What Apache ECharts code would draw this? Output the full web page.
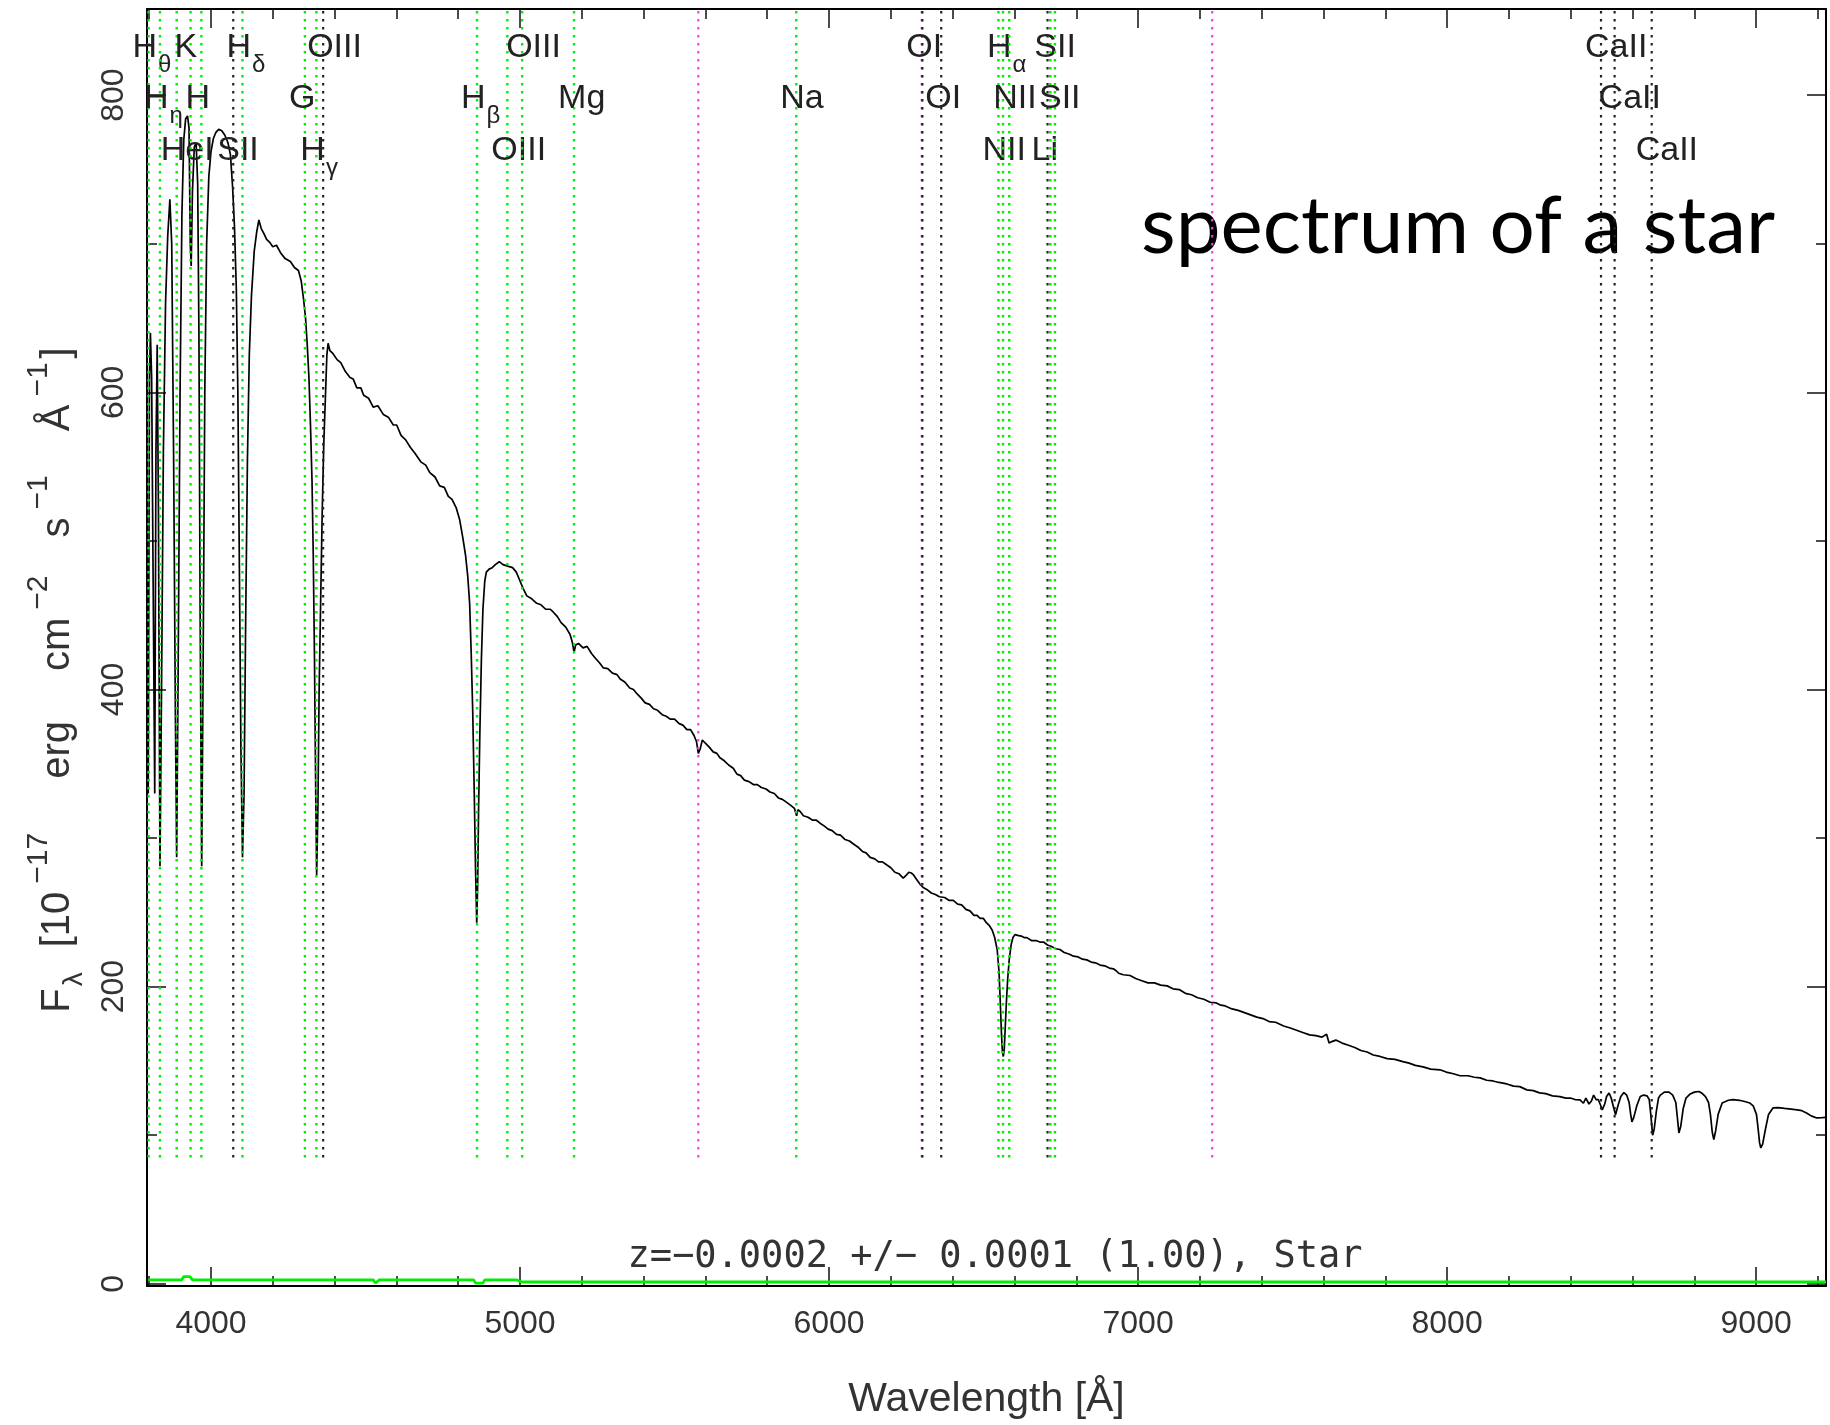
<!DOCTYPE html>
<html>
<head>
<meta charset="utf-8">
<script src="https://cdn.jsdelivr.net/npm/echarts@6/dist/echarts.min.js"></script>
<style>
  html, body { margin: 0; padding: 0; background: #fff; }
  #spec { width: 1830px; height: 1425px; }
</style>
</head>
<body>
<div id="spec"></div>
<script>
// spectrum (wavelength in Angstrom, flux in 1e-17 erg/cm2/s/A)
const specWave = [
  3797, 3801, 3804, 3808, 3813, 3818, 3822, 3826, 3830, 3835, 3840, 3846, 3853, 3860, 3867, 3873,
  3879, 3885, 3889, 3894, 3900, 3906, 3912, 3918, 3924, 3929, 3933, 3936, 3940, 3946, 3952, 3957,
  3961, 3965, 3970, 3975, 3980, 3986, 3993, 4000, 4008, 4016, 4025, 4035, 4045, 4055, 4063, 4070,
  4076, 4082, 4087, 4092, 4097, 4102, 4107, 4112, 4118, 4124, 4131, 4140, 4148, 4155, 4163, 4171,
  4180, 4190, 4200, 4212, 4225, 4240, 4257, 4270, 4283, 4292, 4300, 4306, 4311, 4317, 4322, 4327,
  4331, 4335, 4339, 4342, 4346, 4350, 4355, 4360, 4365, 4370, 4375, 4379, 4385, 4395, 4408, 4420,
  4435, 4450, 4460, 4472, 4485, 4494, 4510, 4525, 4540, 4558, 4575, 4590, 4601, 4615, 4630, 4645,
  4660, 4680, 4695, 4708, 4725, 4740, 4755, 4768, 4780, 4794, 4805, 4815, 4824, 4831, 4837, 4842,
  4847, 4852, 4856, 4860, 4863, 4866, 4870, 4875, 4880, 4886, 4891, 4900, 4910, 4920, 4933, 4945,
  4960, 4976, 4988, 4998, 5010, 5022, 5038, 5054, 5068, 5083, 5098, 5108, 5121, 5133, 5148, 5162,
  5169, 5175, 5180, 5189, 5204, 5217, 5232, 5244, 5257, 5270, 5284, 5299, 5314, 5324, 5339, 5355,
  5367, 5379, 5393, 5405, 5419, 5432, 5445, 5460, 5473, 5486, 5500, 5515, 5527, 5540, 5552, 5563,
  5571, 5577, 5583, 5590, 5599, 5613, 5625, 5637, 5647, 5661, 5676, 5690, 5702, 5714, 5726, 5741,
  5755, 5768, 5781, 5796, 5809, 5823, 5836, 5849, 5863, 5876, 5888, 5895, 5899, 5906, 5917, 5932,
  5947, 5959, 5971, 5985, 5997, 6010, 6024, 6037, 6052, 6066, 6079, 6093, 6108, 6120, 6133, 6148,
  6160, 6173, 6186, 6200, 6213, 6226, 6240, 6250, 6258, 6266, 6274, 6284, 6294, 6306, 6319, 6331,
  6344, 6357, 6374, 6389, 6402, 6416, 6429, 6443, 6456, 6469, 6479, 6489, 6499, 6509, 6519, 6528,
  6536, 6544, 6550, 6554, 6558, 6561, 6564, 6567, 6570, 6574, 6578, 6583, 6589, 6595, 6602, 6610,
  6622, 6631, 6640, 6655, 6670, 6682, 6694, 6707, 6720, 6734, 6747, 6761, 6776, 6791, 6806, 6820,
  6834, 6848, 6862, 6877, 6892, 6907, 6920, 6930, 6937, 6952, 6974, 6992, 7012, 7032, 7053, 7073,
  7094, 7113, 7133, 7153, 7173, 7193, 7213, 7233, 7253, 7268, 7282, 7304, 7324, 7344, 7364, 7384,
  7404, 7424, 7445, 7471, 7495, 7515, 7535, 7555, 7575, 7595, 7610, 7618, 7627, 7640, 7660, 7681,
  7701, 7721, 7741, 7761, 7783, 7806, 7831, 7857, 7877, 7897, 7922, 7947, 7977, 7997, 8017, 8042,
  8068, 8088, 8107, 8128, 8148, 8168, 8193, 8215, 8235, 8258, 8279, 8299, 8319, 8341, 8365, 8384,
  8399, 8414, 8430, 8441, 8449, 8459, 8467, 8474, 8482, 8489, 8497, 8502, 8510, 8516, 8524, 8531,
  8537, 8545, 8553, 8562, 8572, 8581, 8589, 8594, 8598, 8604, 8614, 8625, 8636, 8647, 8654, 8659,
  8665, 8670, 8677, 8684, 8690, 8703, 8718, 8730, 8740, 8745, 8750, 8756, 8764, 8773, 8785, 8800,
  8815, 8826, 8836, 8846, 8852, 8858, 8863, 8869, 8877, 8890, 8910, 8925, 8946, 8966, 8979, 8991,
  9001, 9006, 9011, 9015, 9021, 9030, 9040, 9055, 9072, 9092, 9113, 9133, 9148, 9163, 9178, 9196,
  9213, 9226
];
const specFlux = [
  330, 610, 640, 610, 470, 330, 560, 632, 520, 281, 400, 560, 660, 705, 730, 700,
  560, 380, 287, 420, 600, 720, 770, 784, 786, 778, 700, 685, 735, 765, 768, 740,
  640, 450, 281, 430, 600, 700, 745, 762, 771, 775, 777, 776, 773, 768, 760, 738,
  712, 670, 600, 480, 360, 287, 330, 440, 555, 625, 665, 695, 708, 716, 710, 707,
  703, 701, 698, 699, 694, 690, 688, 684, 682, 675, 662, 650, 634, 610, 578, 540,
  490, 420, 330, 275, 320, 400, 460, 520, 565, 595, 625, 633, 628, 626, 622, 620,
  614, 610, 609, 603, 603, 598, 596, 590, 591, 585, 583, 578, 578, 571, 568, 563,
  559, 553, 551, 546, 543, 537, 536, 530, 528, 522, 514, 502, 490, 476, 458, 425,
  385, 330, 280, 243, 270, 320, 370, 420, 454, 473, 479, 481, 482, 484, 486, 484,
  483, 482, 479, 474, 468, 463, 461, 458, 457, 454, 454, 452, 449, 445, 442, 437,
  432, 425, 430, 431, 428, 429, 424, 421, 418, 414.5, 414, 411, 410, 407, 405, 401,
  400, 397, 394, 391, 390, 387, 386, 383, 382, 380, 380, 377, 376, 373, 373, 369,
  365, 357, 360, 366, 364, 361, 358, 357, 354, 352, 349, 347, 343, 342, 339, 338,
  336, 336, 334, 333, 331, 330, 327, 326, 324, 322, 320, 315, 319, 318, 315, 314,
  312, 312, 310, 308, 306, 305, 302.5, 302, 299, 298, 296, 294, 291, 290, 287, 286,
  284, 284, 282, 280, 277, 276, 273, 275, 277, 276.5, 275, 272, 269, 266.5, 265, 263,
  262, 260.5, 260, 258, 258, 255.5, 255, 252, 251, 248, 248, 246, 246, 243, 241, 238,
  233, 225, 210, 190, 168, 156, 153, 158, 172, 190, 205, 218, 228, 233, 235, 234.5,
  234, 233, 233, 231, 231, 230, 230, 228, 227, 225.5, 225, 223, 222, 220.5, 220, 218.5,
  218, 216.5, 216, 214.5, 214, 212.5, 212, 210.5, 209, 208, 207.5, 205.5, 204, 202.5, 202.5, 201,
  200.5, 198.5, 198, 195.5, 194.5, 192.5, 191.5, 189.5, 189, 187.5, 187, 185, 184, 182.5, 181, 179.5,
  178.5, 176.5, 176, 173.5, 172, 170.5, 169, 167.5, 167, 166, 168, 162, 163, 164, 162, 160.5,
  159, 157, 156, 154, 153, 151.5, 151, 149.5, 148.5, 147, 146, 144.5, 144, 142.5, 141.5, 140,
  140, 139, 138.6, 137, 136.5, 135.5, 134.5, 133, 132.7, 130.5, 130, 128.5, 128, 126.5, 126, 125,
  125, 124, 123.8, 121.5, 125, 121, 123, 127, 124, 124, 120, 117, 121, 126, 128.4, 125,
  120, 113.7, 120, 126, 128.7, 127, 122, 114, 109, 112, 120, 126, 127, 126.5, 124, 114,
  100, 104, 116, 125, 127, 129, 129, 127, 122, 112, 101.5, 106, 118, 125, 127.5, 129,
  129.4, 128, 126, 122, 114, 102, 97, 103, 114, 121.7, 123.5, 124, 123.5, 122.5, 121.7, 119.5,
  114, 105, 95, 91.4, 94, 104, 114, 118.4, 118.5, 118, 117.5, 117, 116.5, 115, 113, 111.6,
  111.8, 112
];

// noise / error spectrum along the bottom
const errWave = [3797, 3905, 3912, 3932, 3940, 4525, 4532, 4545, 4850, 4856, 4880, 4886, 4990, 5005, 9226];
const errFlux = [2.6, 2.6, 4.8, 4.8, 2.6, 2.6, 0.5, 2.6, 2.6, 0.4, 0.4, 2.6, 2.6, 1.2, 1.2];

// marked spectral lines
const lineWave = [3798, 3835, 3889, 3934, 3969, 4072, 4102, 4304, 4341, 4363, 4861, 4959, 5007, 5175,
  5577, 5894, 6300, 6302, 6363, 6548, 6563, 6583, 6707, 6716, 6731, 7240, 8498, 8542, 8662];
const lineName = ['H_θ', 'H_η', 'HeI', 'K', 'H', 'SII', 'H_δ', 'G', 'H_γ', 'OIII', 'H_β', 'OIII', 'OIII', 'Mg',
  '', 'Na', '', 'OI', 'OI', 'NII', 'H_α', 'NII', 'Li', 'SII', 'SII', '', 'CaII', 'CaII', 'CaII'];
const lineKind = ['em', 'em', 'em', 'em', 'em', 'abs', 'em', 'em', 'em', 'abs', 'em', 'em', 'em', 'em',
  'sky', 'em', 'sky', 'abs', 'abs', 'em', 'em', 'em', 'abs', 'em', 'em', 'sky', 'abs', 'abs', 'abs'];
const labelTier = [0, 1, 2, 0, 1, 2, 0, 1, 2, 0, 1, 2, 0, 1,
  0, 1, 0, 0, 1, 2, 0, 1, 2, 0, 1, 0, 0, 1, 2];
const lineFloor = 82;

// axes
const xMajor = [4000, 5000, 6000, 7000, 8000, 9000];
const xMinor = [3800, 4200, 4400, 4600, 4800, 5200, 5400, 5600, 5800, 6200, 6400, 6600, 6800,
  7200, 7400, 7600, 7800, 8200, 8400, 8600, 8800, 9200];
const yMajor = [0, 200, 400, 600, 800];
const yMinor = [100, 300, 500, 700];
const X_MIN = 3793, X_MAX = 9226, Y_MIN = -1.5, Y_MAX = 858;

const zText = 'z=−0.0002 +/− 0.0001 (1.00), Star';
const titleText = 'spectrum of a star';

const LABEL_FONT = '"Liberation Sans", Arial, sans-serif';
const TXT = '#333';
const kindColor = { em: '#00ee00', abs: '#222', sky: '#ff33ff' };
const tierTop = [22, 73, 125];

function xAxisOf(pos, ticks, len, withLine) {
  return {
    type: 'value', position: pos, min: X_MIN, max: X_MAX,
    splitLine: { show: false },
    axisLine: { show: withLine, onZero: false, lineStyle: { color: '#000', width: 2 } },
    axisTick: { show: true, inside: true, length: len, customValues: ticks, lineStyle: { color: '#111', width: 1.5 } },
    axisLabel: { show: false }
  };
}
function yAxisOf(pos, ticks, len, withLine) {
  return {
    type: 'value', position: pos, min: Y_MIN, max: Y_MAX,
    splitLine: { show: false },
    axisLine: { show: withLine, onZero: false, lineStyle: { color: '#000', width: 2 } },
    axisTick: { show: true, inside: true, length: len, customValues: ticks, lineStyle: { color: '#111', width: 1.5 } },
    axisLabel: { show: false }
  };
}

const xBottom = xAxisOf('bottom', xMajor, 19, true);
xBottom.axisLabel = {
  show: true, customValues: xMajor, margin: 22,
  formatter: v => String(v),
  color: TXT, fontFamily: LABEL_FONT, fontSize: 32
};
xBottom.name = 'Wavelength [Å]';
xBottom.nameLocation = 'middle';
xBottom.nameGap = 93;
xBottom.nameTextStyle = { color: TXT, fontFamily: LABEL_FONT, fontSize: 41 };

const yLeft = yAxisOf('left', yMajor, 19, true);
yLeft.axisLabel = {
  show: true, customValues: yMajor, rotate: 90, margin: 17,
  formatter: v => String(v),
  color: TXT, fontFamily: LABEL_FONT, fontSize: 32
};

function renderLine(params, api) {
  const i = api.value(1);
  const lam = api.value(0);
  const top = api.coord([lam, Y_MAX]);
  const bot = api.coord([lam, lineFloor]);
  const kind = lineKind[i];
  const children = [{
    type: 'line',
    shape: { x1: top[0], y1: top[1] + 2, x2: bot[0], y2: bot[1] },
    style: {
      stroke: kindColor[kind], lineWidth: kind === 'em' ? 2.4 : 2.2,
      lineDash: [2.5, 5.5]
    }
  }];
  const name = lineName[i];
  if (name) {
    const parts = name.split('_');
    const txt = parts.length > 1 ? '{m|' + parts[0] + '}{s|' + parts[1] + '}' : '{m|' + name + '}';
    children.push({
      type: 'text',
      style: {
        text: txt, x: top[0] - 16, y: top[1] + tierTop[labelTier[i]],
        align: 'left', verticalAlign: 'top', textAlign: 'left', textVerticalAlign: 'top',
        fill: '#222', fontFamily: LABEL_FONT, fontSize: 34,
        rich: {
          m: { fontFamily: LABEL_FONT, fontSize: 34, lineHeight: 36, verticalAlign: 'top', color: '#222' },
          s: { fontFamily: LABEL_FONT, fontSize: 24, lineHeight: 24, verticalAlign: 'top', padding: [22, 0, 0, 1], color: '#222' }
        }
      }
    });
  }
  return { type: 'group', children: children };
}

const chart = echarts.init(document.getElementById('spec'), null, { renderer: 'canvas' });
chart.setOption({
  animation: false,
  backgroundColor: '#fff',
  grid: { left: 147, right: 4, top: 9, bottom: 139, containLabel: false },
  xAxis: [
    xBottom,
    xAxisOf('bottom', xMinor, 10, false),
    xAxisOf('top', xMajor, 19, true),
    xAxisOf('top', xMinor, 10, false)
  ],
  yAxis: [
    yLeft,
    yAxisOf('left', yMinor, 10, false),
    yAxisOf('right', yMajor, 19, true),
    yAxisOf('right', yMinor, 10, false)
  ],
  series: [
    {
      type: 'line', name: 'error', xAxisIndex: 0, yAxisIndex: 0,
      data: errWave.map((w, i) => [w, errFlux[i]]),
      showSymbol: false, lineStyle: { color: '#00ee00', width: 2.8 }, z: 3
    },
    {
      type: 'line', name: 'flux', xAxisIndex: 0, yAxisIndex: 0,
      data: specWave.map((w, i) => [w, specFlux[i]]),
      showSymbol: false, sampling: 'none',
      lineStyle: { color: '#000', width: 1.7 }, z: 4
    },
    {
      type: 'custom', name: 'lines', xAxisIndex: 0, yAxisIndex: 0,
      data: lineWave.map((w, i) => [w, i]),
      renderItem: renderLine, clip: false, z: 5, silent: true
    }
  ],
  graphic: [
    {
      type: 'text', x: 45, y: 680, rotation: Math.PI / 2,
      style: {
        text: '{m|F}{sub|λ}{a|[10}{sup|−17}{b|erg}{b|cm}{sup|−2}{c|s}{sup|−1}{d|Å}{sup|−1}{m|]}',
        x: 0, y: 0, align: 'center', verticalAlign: 'middle', textAlign: 'center', textVerticalAlign: 'middle',
        fill: TXT, fontFamily: LABEL_FONT, fontSize: 40,
        rich: {
          m: { fontFamily: LABEL_FONT, fontSize: 40, lineHeight: 42, padding: [14, 0, 0, 0], verticalAlign: 'top', color: TXT },
          a: { fontFamily: LABEL_FONT, fontSize: 40, lineHeight: 42, padding: [14, 0, 0, 22], verticalAlign: 'top', color: TXT },
          b: { fontFamily: LABEL_FONT, fontSize: 40, lineHeight: 42, padding: [14, 0, 0, 50], verticalAlign: 'top', color: TXT },
          c: { fontFamily: LABEL_FONT, fontSize: 40, lineHeight: 42, padding: [14, 0, 0, 34], verticalAlign: 'top', color: TXT },
          d: { fontFamily: LABEL_FONT, fontSize: 40, lineHeight: 42, padding: [14, 0, 0, 40], verticalAlign: 'top', color: TXT },
          sup: { fontFamily: LABEL_FONT, fontSize: 30, lineHeight: 30, padding: [0, 4, 0, 8], verticalAlign: 'top', color: TXT },
          sub: { fontFamily: LABEL_FONT, fontSize: 28, lineHeight: 28, padding: [36, 3, 0, 2], verticalAlign: 'top', color: TXT }
        }
      }
    },
    {
      type: 'text', x: 995, y: 1257,
      style: {
        text: zText, align: 'center', verticalAlign: 'middle', textAlign: 'center', textVerticalAlign: 'middle',
        fill: TXT, fontFamily: '"DejaVu Sans Mono", "Liberation Mono", monospace', fontSize: 37
      }
    },
    {
      type: 'text', x: 1141, y: 227,
      style: {
        text: titleText, align: 'left', verticalAlign: 'middle', textAlign: 'left', textVerticalAlign: 'middle',
        fill: '#000', fontFamily: 'Lato, "Open Sans", sans-serif', fontSize: 80
      }
    }
  ]
});
</script>
</body>
</html>
